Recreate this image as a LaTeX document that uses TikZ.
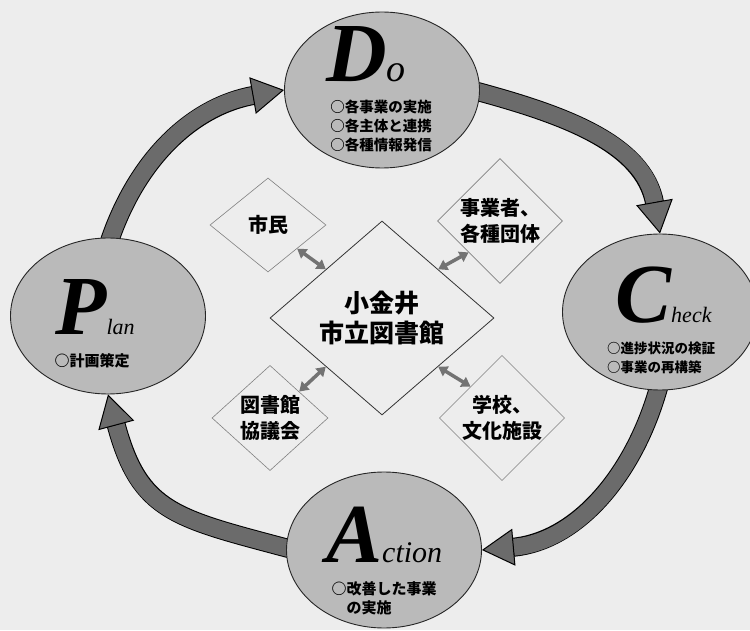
\documentclass[tikz,border=0pt]{standalone}
\usepackage{fontspec}
\setmainfont{Liberation Serif}
\newfontfamily\jpfont{Noto Sans CJK JP}
\usetikzlibrary{arrows.meta,shapes.geometric,backgrounds}
\definecolor{paper}{gray}{0.93}
\definecolor{phasefill}{gray}{0.73}
\definecolor{bandfill}{gray}{0.42}
\definecolor{linkfill}{gray}{0.45}

\begin{document}
\begin{tikzpicture}[x=1pt,y=1pt,
    phase/.style={ellipse,draw=black!85,line width=0.9pt,fill=phasefill,minimum width=195pt,minimum height=156pt,inner sep=0pt},
    initial/.style={inner sep=0pt,text depth=0pt,anchor=base west,font=\bfseries\itshape\fontsize{84}{84}\selectfont},
    body/.style={inner sep=0pt,align=left,font=\jpfont\bfseries\fontsize{#1}{19}\selectfont},
    body/.default=14.5,
    hub/.style={diamond,draw=black!80,line width=0.8pt,minimum width=224pt,minimum height=194pt,inner sep=0pt,align=center,font=\jpfont\bfseries\fontsize{25}{30}\selectfont},
    partner/.style={diamond,draw=black!50,line width=0.6pt,minimum width=116pt,minimum height=94pt,inner sep=0pt,align=center,font=\jpfont\bfseries\fontsize{20}{26}\selectfont},
    cyclearrow/.style={draw=bandfill,line width=17pt,-{Triangle[width=37pt,length=32pt,color=black,fill=bandfill,line width=1pt]},preaction={-,draw=black,line width=19pt,shorten >=30pt}},
    link/.style={draw=linkfill,line width=3.5pt,{Triangle[width=11pt,length=9pt]}-{Triangle[width=11pt,length=9pt]}}]
        \useasboundingbox (0,0) rectangle (750,630);

        % PDCA cycle
        \node[phase] (do) at (382,540) {};
        \node[phase] (check) at (660,318) {};
        \node[phase] (plan) at (108,314) {};
        \node[phase] (act) at (384,80) {};

        \node[initial] (doTitle) at (326,548) {D{\mdseries\fontsize{38}{38}\selectfont o}};
        \node[initial] (checkTitle) at (615,307) {C{\mdseries\fontsize{22}{22}\selectfont heck}};
        \node[initial] (planTitle) at (55,295) {P{\mdseries\fontsize{22}{22}\selectfont lan}};
        \node[initial] (actTitle) at (326,68) {A{\mdseries\fontsize{30}{30}\selectfont ction}};

        \node[body] (doText) at (381,504) {○各事業の実施\\○各主体と連携\\○各種情報発信};
        \node[body=13.5] (checkText) at (661,272) {○進捗状況の検証\\○事業の再構築};
        \node[body=15] (planText) at (92,269) {○計画策定};
        \node[body=15] (actText) at (384,32) {○改善した事業\\　の実施};

        \begin{scope}[on background layer]
        \fill[paper] (0,0) rectangle (750,630);
        \draw[cyclearrow] ([yshift=-8pt]plan.north) to[out=72,in=190] (do.west);
        \draw[cyclearrow] ([xshift=-8pt]do.east) to[out=-15,in=100] (check.north);
        \draw[cyclearrow] ([yshift=8pt]check.south) to[out=-105,in=5] (act.east);
        \draw[cyclearrow] ([xshift=8pt]act.west) to[out=165,in=-75,looseness=1.3] (plan.south);
        \end{scope}

        % library and partners
        \node[hub] (lib) at (382,312) {小金井\\市立図書館};
        \node[partner] (citizen) at (268,405) {市民};
        \node[partner] (business) at (500,409) {事業者、\\各種団体};
        \node[partner] (council) at (270,212) {図書館\\協議会};
        \node[partner] (school) at (502,212) {学校、\\文化施設};

        \draw[link] (citizen.south east) -- (lib.north west);
        \draw[link] (business.south west) -- (lib.north east);
        \draw[link] (council.north east) -- (lib.south west);
        \draw[link] (school.north west) -- (lib.south east);
\end{tikzpicture}
\end{document}
